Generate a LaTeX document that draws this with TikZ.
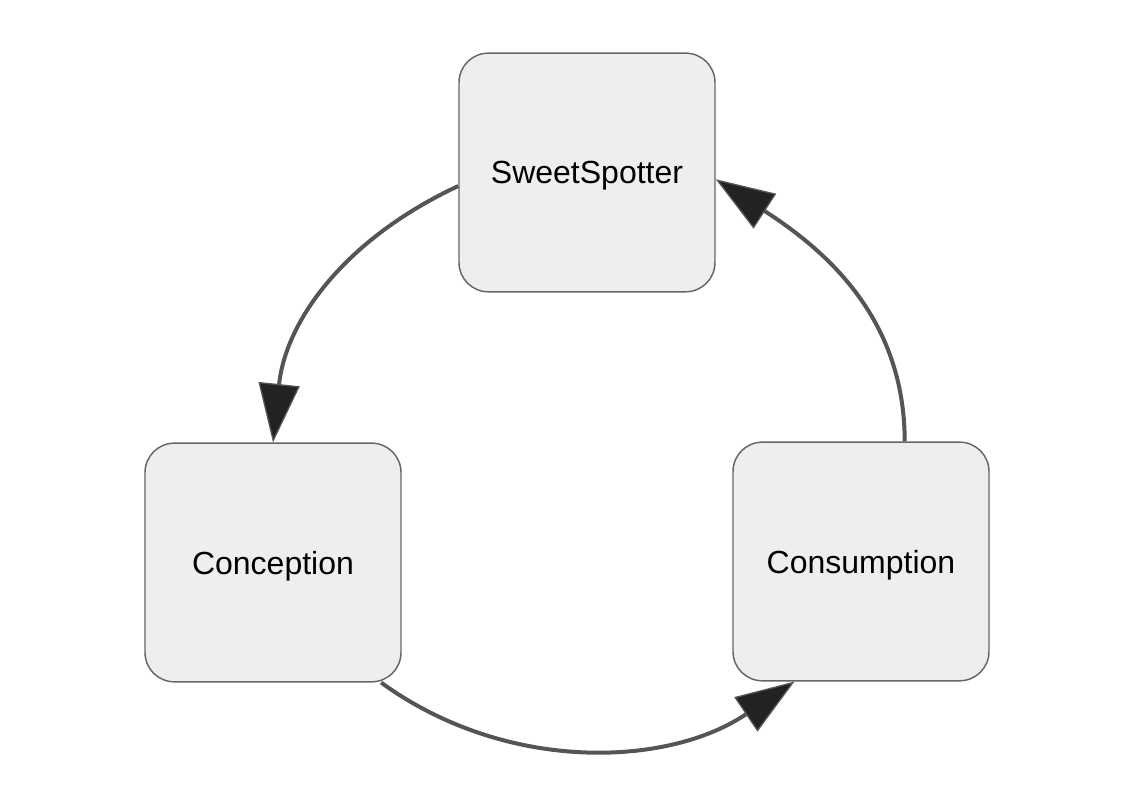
\documentclass[tikz,border=0pt]{standalone}
\usepackage{fontspec}
\setmainfont{Liberation Sans}
\usetikzlibrary{arrows.meta}
\definecolor{boxfill}{HTML}{EEEEEE}
\definecolor{boxline}{HTML}{666666}
\definecolor{arcline}{HTML}{555555}
\definecolor{tipfill}{HTML}{222222}
\begin{document}
\begin{tikzpicture}
[x=0.75pt,y=0.75pt,
 boxdecorate/.style={shape=rectangle,rounded corners=22pt,draw=boxline,
  fill=boxfill,line width=1.1pt,minimum width=192pt,minimum height=179pt,
  text depth=0pt,font=\fontsize{24}{28}\selectfont},%
 linedecorate/.style={draw=arcline,line width=3pt,
  -{Triangle[length=44pt,width=31pt,line width=1pt,fill=tipfill]}}]
\useasboundingbox (0,0) rectangle (1122,812);
%% boxes
\foreach \nodename/\x/\y/\nodetext in {ss/587/639.5/SweetSpotter,
  co/273/249.5/Conception, cs/861/250.5/Consumption} {
  \node (\nodename) at (\x,\y) [boxdecorate] {\nodetext};
}
%% arcs
\draw[linedecorate] (ss.186) to[out=205,in=84] (co.north);
\draw[linedecorate] (co.-48) to[out=-36,in=214,looseness=0.95] (cs.-119);
\draw[linedecorate] (cs.70.6) to[out=90,in=-33] (ss.-3.4);
\end{tikzpicture}
\end{document}
